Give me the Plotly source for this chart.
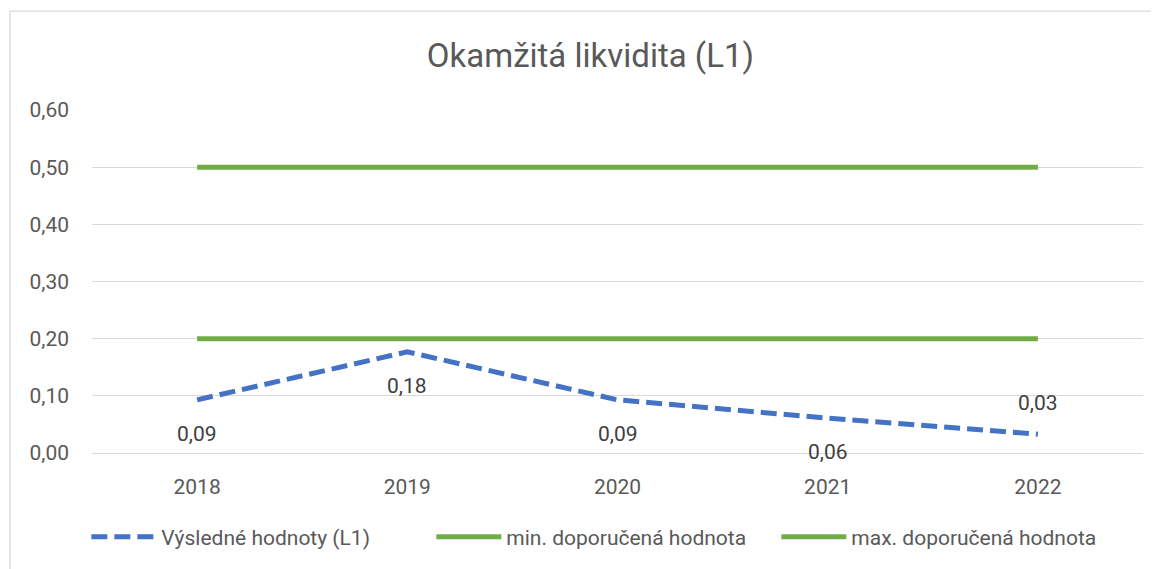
import plotly.graph_objects as go

# chart data
years = ["2018", "2019", "2020", "2021", "2022"]
l1_values = [0.093, 0.177, 0.093, 0.061, 0.033]
min_recommended = [0.2, 0.2, 0.2, 0.2, 0.2]
max_recommended = [0.5, 0.5, 0.5, 0.5, 0.5]
y_ticks = [0.0, 0.1, 0.2, 0.3, 0.4, 0.5, 0.6]

# label offsets (px) for the L1 data labels, as placed in the original
label_shift = [-34, -34, -34, -34, 31]

BLUE = "#4472C4"
GREEN = "#70AD47"
GREY_TEXT = "#595959"
LABEL_TEXT = "#404040"
GRID = "#D9D9D9"
FONT = "Roboto, Noto Sans, sans-serif"

fig = go.Figure()

fig.add_trace(go.Scatter(
    x=years, y=l1_values,
    name="Výsledné hodnoty (L1)",
    mode="lines",
    line=dict(color=BLUE, width=5, dash="16px,7px"),
))

fig.add_trace(go.Scatter(
    x=years, y=min_recommended,
    name="min. doporučená hodnota",
    mode="lines",
    line=dict(color=GREEN, width=5),
))

fig.add_trace(go.Scatter(
    x=years, y=max_recommended,
    name="max. doporučená hodnota",
    mode="lines",
    line=dict(color=GREEN, width=5),
))

# data labels for the L1 series (category index used as x)
for i, (val, shift) in enumerate(zip(l1_values, label_shift)):
    fig.add_annotation(
        x=i, y=val,
        text=f"{val:.2f}".replace(".", ","),
        showarrow=False,
        yshift=shift,
        font=dict(size=21, color=LABEL_TEXT, family=FONT),
    )

# page body adds 8px margin, so the figure is 8px smaller than the window
fig.update_layout(
    width=1151,
    height=561,
    separators=",.",
    paper_bgcolor="white",
    plot_bgcolor="white",
    font=dict(family=FONT, size=21, color=GREY_TEXT),
    margin=dict(l=84, r=16, t=102, b=116),
    title=dict(
        text="Okamžitá likvidita (L1)",
        x=0.506, xanchor="center",
        y=0.916, yanchor="middle",
        font=dict(size=33, color=GREY_TEXT, family=FONT),
    ),
    xaxis=dict(
        type="category",
        range=[-0.5, 4.5],
        showgrid=False,
        showline=True,
        linecolor=GRID,
        linewidth=1.3,
        ticks="",
        ticklabelstandoff=15,
        tickfont=dict(size=21, color=GREY_TEXT),
        fixedrange=True,
    ),
    yaxis=dict(
        range=[0, 0.6],
        tickvals=y_ticks,
        tickformat=".2f",
        gridcolor=GRID,
        gridwidth=1.3,
        zeroline=True,
        zerolinecolor=GRID,
        showline=False,
        ticks="",
        ticklabelstandoff=22,
        tickfont=dict(size=21, color=GREY_TEXT),
    ),
    legend=dict(
        orientation="h",
        x=0.487, xanchor="center",
        y=-0.245, yanchor="middle",
        font=dict(size=21, color=GREY_TEXT),
        itemwidth=65,
        entrywidth=265,
        entrywidthmode="pixels",
        tracegroupgap=0,
    ),
    shapes=[dict(
        type="rect", xref="paper", yref="paper",
        x0=-0.078, x1=1.2, y0=-0.6, y1=1.288,
        line=dict(color=GRID, width=1.3),
        fillcolor="rgba(0,0,0,0)",
        layer="below",
    )],
)

fig.write_html("out.html")
